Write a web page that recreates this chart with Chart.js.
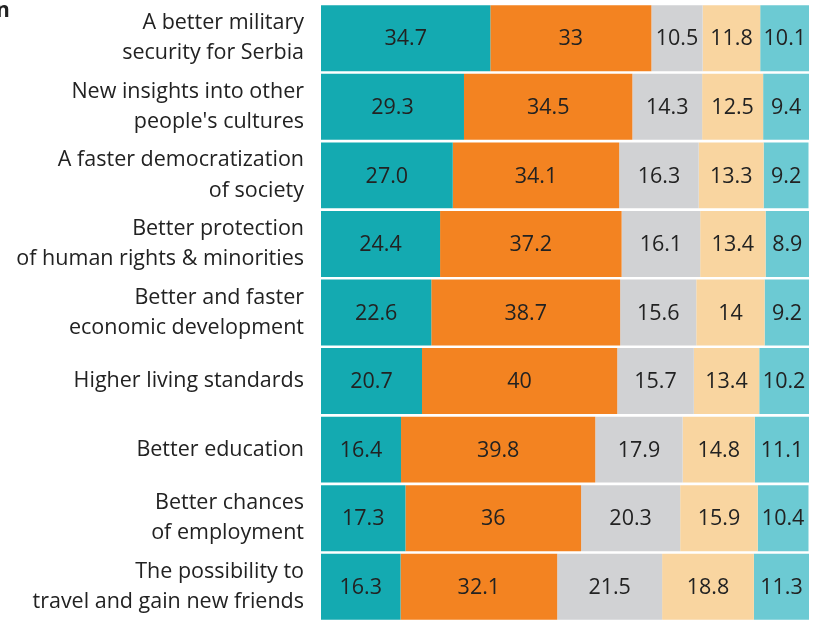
<!DOCTYPE html>
<html>
<head>
<meta charset="utf-8">
<script src="https://cdn.jsdelivr.net/npm/chart.js@4/dist/chart.umd.min.js"></script>
<style>
html,body{margin:0;padding:0;background:#fff;}
#wrap{width:822px;height:621px;position:relative;}
</style>
</head>
<body>
<div id="wrap"><canvas id="c" width="822" height="621"></canvas></div>
<script>
const categories = [
  ["A better military", "security for Serbia"],
  ["New insights into other", "people's cultures"],
  ["A faster democratization", "of society"],
  ["Better protection", "of human rights & minorities"],
  ["Better and faster", "economic development"],
  ["Higher living standards"],
  ["Better education"],
  ["Better chances", "of employment"],
  ["The possibility to", "travel and gain new friends"]
];
const series1 = [34.7, 29.3, 27.0, 24.4, 22.6, 20.7, 16.4, 17.3, 16.3];
const series2 = [33, 34.5, 34.1, 37.2, 38.7, 40, 39.8, 36, 32.1];
const series3 = [10.5, 14.3, 16.3, 16.1, 15.6, 15.7, 17.9, 20.3, 21.5];
const series4 = [11.8, 12.5, 13.3, 13.4, 14, 13.4, 14.8, 15.9, 18.8];
const series5 = [10.1, 9.4, 9.2, 8.9, 9.2, 10.2, 11.1, 10.4, 11.3];
const labels1 = ["34.7","29.3","27.0","24.4","22.6","20.7","16.4","17.3","16.3"];
const labels2 = ["33","34.5","34.1","37.2","38.7","40","39.8","36","32.1"];
const labels3 = ["10.5","14.3","16.3","16.1","15.6","15.7","17.9","20.3","21.5"];
const labels4 = ["11.8","12.5","13.3","13.4","14","13.4","14.8","15.9","18.8"];
const labels5 = ["10.1","9.4","9.2","8.9","9.2","10.2","11.1","10.4","11.3"];
const colors = ["#14AAB1", "#F38321", "#D1D2D4", "#F9D5A0", "#6CCAD3"];

const allSeries = [series1, series2, series3, series4, series5];
const allLabels = [labels1, labels2, labels3, labels4, labels5];
const FONT = "'Open Sans', 'Liberation Sans', sans-serif";

const valueLabels = {
  id: 'valueLabels',
  afterDatasetsDraw(chart) {
    const ctx = chart.ctx;
    ctx.save();
    ctx.font = "21.5px " + FONT;
    ctx.fillStyle = "#222222";
    ctx.textAlign = "center";
    ctx.textBaseline = "middle";
    chart.data.datasets.forEach((ds, di) => {
      const meta = chart.getDatasetMeta(di);
      meta.data.forEach((el, i) => {
        const p = el.getCenterPoint();
        ctx.fillText(allLabels[di][i], p.x, p.y + 1);
      });
    });
    ctx.restore();
  }
};

const cornerText = {
  id: 'cornerText',
  afterDraw(chart) {
    const ctx = chart.ctx;
    ctx.save();
    ctx.font = "bold 21px " + FONT;
    ctx.fillStyle = "#222222";
    ctx.textAlign = "left";
    ctx.textBaseline = "middle";
    ctx.fillText("n", -4, 11);
    ctx.restore();
  }
};

new Chart(document.getElementById('c'), {
  type: 'bar',
  data: {
    labels: categories,
    datasets: allSeries.map((s, i) => ({
      data: s,
      backgroundColor: colors[i],
      borderWidth: 0,
      barPercentage: 0.962,
      categoryPercentage: 1
    }))
  },
  options: {
    indexAxis: 'y',
    responsive: false,
    animation: false,
    layout: { padding: { top: 4, bottom: 0, left: 0, right: 13 } },
    plugins: { legend: { display: false }, tooltip: { enabled: false } },
    scales: {
      x: { stacked: true, display: false, min: 0, max: 100 },
      y: {
        stacked: true,
        grid: { display: false, drawTicks: false },
        border: { display: false },
        ticks: {
          padding: 17,
          color: "#222222",
          font: { family: FONT, size: 21.5, lineHeight: 1.4 }
        },
        afterFit(scale) {
          scale.width = 321;
          scale.paddingTop = 0;
          scale.paddingBottom = 0;
        }
      }
    }
  },
  plugins: [valueLabels, cornerText]
});
</script>
</body>
</html>
